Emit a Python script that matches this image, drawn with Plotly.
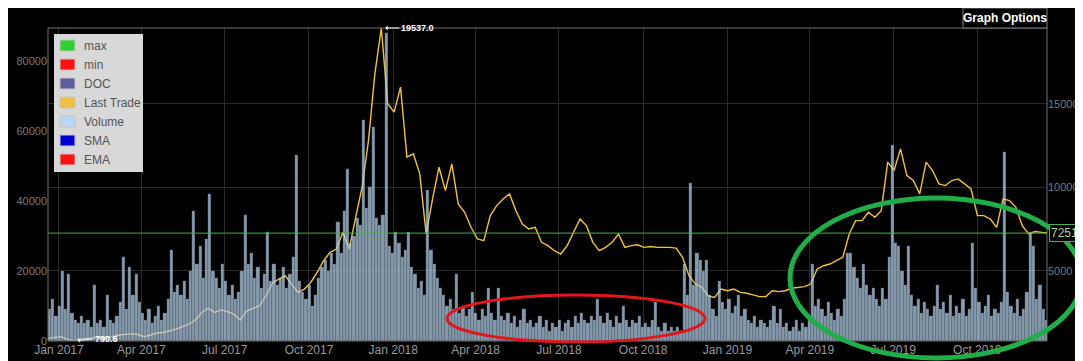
import pandas as pd
import plotly.graph_objects as go

# ---------------- data ----------------
price_dates = pd.date_range('2016-12-20', periods=157, freq='7D')
last_trade = [
    950, 980, 1050, 900, 790.6, 900, 950, 980, 1000, 1030,
    1050, 1150, 1200, 1220, 1180, 1050, 1150, 1270, 1300, 1400,
    1500, 1650, 1800, 2050, 2500, 2750, 2500, 2650, 2550, 2400,
    2050, 2600, 2750, 2900, 3500, 4250, 4500, 4700, 4200, 3700,
    3900, 4300, 4900, 5600, 6100, 6300, 7300, 6300, 8200, 10000,
    12800, 16800, 19537.0, 15000, 14500, 16000, 11800, 12000, 10800, 7200,
    9300, 11200, 9800, 11400, 9000, 8500, 7600, 6900, 6800, 8300,
    8900, 9300, 9600, 8600, 7800, 7500, 7600, 6700, 6500, 6200,
    6000, 6500, 7300, 8100, 7700, 6700, 6200, 6400, 6700, 7200,
    6400, 6500, 6550, 6400, 6450, 6400, 6400, 6400, 6350, 5800,
    4700, 4200, 4000, 3500, 3400, 3900, 3800, 3900, 3700, 3650,
    3550, 3450, 3450, 3800, 3750, 3800, 3950, 4000, 4050, 4200,
    5100, 5300, 5400, 5600, 5800, 7200, 8000, 8000, 8500, 8200,
    8600, 11500, 11000, 12300, 10700, 10400, 9600, 11500, 11000, 10200,
    10100, 10400, 10500, 10200, 9900, 8300, 8300, 8100, 7600, 9300,
    9200, 8800, 7700, 7200, 7350, 7300, 7251.8,
]

volume_dates = pd.date_range('2016-12-21 18:00', periods=312, freq='84h')
volume_k = [
    9, 12, 7, 10, 20, 9, 19, 8, 6, 5,
    7, 5, 6, 4, 16, 5, 6, 4, 13, 6,
    5, 7, 11, 24, 9, 21, 13, 19, 11, 8,
    6, 9, 5, 7, 10, 6, 8, 12, 26, 14,
    16, 13, 17, 12, 20, 37, 22, 27, 18, 29,
    42, 20, 18, 15, 22, 17, 13, 16, 12, 14,
    20, 36, 22, 25, 18, 21, 15, 19, 31, 17,
    22, 16, 18, 21, 15, 19, 24, 53, 17, 14,
    12, 16, 10, 13, 18, 21, 23, 20, 25, 22,
    34, 25, 37, 49, 28, 30, 35, 33, 63, 38,
    44, 61, 35, 33, 36, 88, 27, 25, 31, 28,
    24, 26, 31, 21, 19, 15, 17, 13, 43, 26,
    22, 18, 15, 13, 10, 12, 9, 19, 8, 10,
    7, 9, 14, 8, 6, 9, 7, 15, 8, 6,
    15, 7, 6, 8, 5, 7, 4, 6, 9, 5,
    6, 4, 5, 7, 4, 6, 3, 5, 4, 6,
    3, 5, 6, 4, 7, 5, 8, 6, 5, 7,
    6, 12, 7, 5, 8, 6, 4, 7, 5, 10,
    6, 4, 6, 5, 7, 4, 5, 4, 6, 11,
    4, 3, 5, 3, 4, 3, 4, 3, 22, 13,
    45, 16, 25, 23, 20, 23, 13, 9, 7, 17,
    11, 9, 12, 8, 10, 13, 7, 9, 6, 5,
    7, 4, 6, 5, 4, 6, 10, 5, 9, 4,
    5, 3, 4, 6, 3, 5, 4, 6, 22, 10,
    12, 9, 7, 11, 8, 6, 9, 7, 12, 25,
    25, 21, 18, 15, 22, 16, 13, 15, 12, 10,
    15, 12, 24, 56, 28, 27, 20, 16, 27, 13,
    10, 12, 8, 11, 9, 7, 10, 16, 9, 11,
    8, 13, 7, 10, 8, 12, 7, 9, 28, 15,
    11, 8, 10, 13, 7, 9, 8, 11, 54, 14,
    10, 8, 12, 7, 9, 14, 31, 27, 12, 16,
    9, 6,
]
volume = [v * 1000 for v in volume_k]

x_range = ['2016-12-20', '2019-12-16']
price_ticks = [5000, 10000, 15000]
volume_ticks = [0, 20000, 40000, 60000, 80000]

legend_names = ['max', 'min', 'DOC', 'Last Trade', 'Volume', 'SMA', 'EMA']
legend_colors = ['#2fd02f', '#ff1010', '#5e5e9e', '#f0c040', '#b8d8f2', '#0000d0', '#ff1010']

# ---------------- geometry (page has an 8px body margin) ----------------
OFF = 8
W, H = 1075, 353
L, R, T, B = 40, 36, 20, 20
PW, PH = W - L - R, H - T - B


def px(x):
    """window pixel x -> paper x"""
    return (x - OFF - L) / PW


def py(y):
    """window pixel y -> paper y"""
    return (H - B - (y - OFF)) / PH


price_min = min(last_trade)
price_max = max(last_trade)
i_max = last_trade.index(price_max)
i_min = last_trade.index(price_min)
last_val = last_trade[-1]

FONT = 'Liberation Sans, Arial, sans-serif'

fig = go.Figure()
fig.add_trace(go.Scatter(
    x=price_dates, y=last_trade, mode='lines', yaxis='y',
    line=dict(color='#f2c23e', width=1.4), hoverinfo='skip'))
fig.add_trace(go.Bar(
    x=volume_dates, y=volume, yaxis='y2', width=3.5 * 86400000,
    marker=dict(color='rgb(184,212,238)', line=dict(width=0.3, color='rgba(20,30,40,0.4)')),
    opacity=0.72, hoverinfo='skip'))

shapes = [
    # plot frame
    dict(type='rect', xref='paper', yref='paper', x0=0, x1=1, y0=0, y1=1,
         line=dict(color='#6e6e6e', width=1), layer='above'),
    # last trade line
    dict(type='line', xref='paper', yref='y', x0=0, x1=1, y0=last_val, y1=last_val,
         line=dict(color='#4caf50', width=1), layer='above'),
    # graph options box
    dict(type='rect', xref='paper', yref='paper', x0=px(963), x1=1.0, y0=1.0, y1=py(8),
         line=dict(color='#808080', width=1), fillcolor='black', layer='above'),
    # green corner box
    dict(type='rect', xref='paper', yref='paper', x0=px(1080), x1=px(1096), y0=py(25), y1=py(12),
         line=dict(color='#2fbf2f', width=1.5), layer='above'),
    # legend background
    dict(type='rect', xref='paper', yref='paper', x0=px(54), x1=px(143), y0=py(172), y1=py(34),
         line=dict(width=0), fillcolor='#d8d8d8', layer='above'),
    # hand-drawn ellipses
    dict(type='circle', xref='paper', yref='paper', x0=px(447), x1=px(705), y0=py(342), y1=py(295),
         line=dict(color='#e0181c', width=3), layer='above'),
    dict(type='circle', xref='paper', yref='paper', x0=px(790), x1=px(1082), y0=py(358), y1=py(198),
         line=dict(color='#1fae48', width=5), layer='above'),
]

annotations = [
    dict(xref='paper', yref='paper', x=px(1005), y=py(18), text='<b>Graph Options</b>',
         showarrow=False, xanchor='center', yanchor='middle',
         font=dict(color='white', size=12, family=FONT)),
    dict(xref='paper', yref='y', x=1.0, y=last_val, text='7251.8', showarrow=False,
         xanchor='left', xshift=2, font=dict(color='#a9d6a0', size=12, family=FONT),
         bordercolor='#4caf50', borderwidth=1, borderpad=1, bgcolor='black'),
    dict(x=price_dates[i_max], y=price_max, xref='x', yref='y', text='<b>%.1f</b>' % price_max,
         showarrow=True, ax=18, ay=0, xanchor='left', standoff=4,
         arrowhead=1, arrowsize=0.8, arrowwidth=1, arrowcolor='white',
         font=dict(color='white', size=9, family=FONT)),
    dict(x=price_dates[i_min], y=price_min, xref='x', yref='y', text='<b>%.1f</b>' % price_min,
         showarrow=True, ax=19, ay=-2, xanchor='left', standoff=4,
         arrowhead=1, arrowsize=0.8, arrowwidth=1, arrowcolor='white',
         font=dict(color='white', size=9, family=FONT)),
]

for k, (name, col) in enumerate(zip(legend_names, legend_colors)):
    yc = 45.5 + 19 * k
    shapes.append(dict(type='rect', xref='paper', yref='paper',
                       x0=px(60), x1=px(75), y0=py(yc + 5.5), y1=py(yc - 5.5),
                       fillcolor=col, line=dict(color='#c4c4c4', width=1), layer='above'))
    annotations.append(dict(xref='paper', yref='paper', x=px(82), y=py(yc), text=name,
                            showarrow=False, xanchor='left', yanchor='middle',
                            font=dict(color='#555555', size=12, family=FONT)))

fig.update_layout(
    width=W, height=H,
    margin=dict(l=L, r=R, t=T, b=B, autoexpand=False),
    paper_bgcolor='black', plot_bgcolor='black',
    showlegend=False, bargap=0,
    font=dict(family=FONT, color='#888888'),
    xaxis=dict(type='date', range=x_range, tick0='2017-01-01', dtick='M3',
               tickformat='%b %Y', showgrid=True, gridcolor='#2a2a2a', gridwidth=1,
               zeroline=False, showline=False, ticks='', automargin=False,
               tickfont=dict(color='#999999', size=12, family=FONT)),
    yaxis=dict(side='right', range=[price_min, price_max], tickvals=price_ticks,
               tickformat='d', automargin=False,
               showgrid=True, gridcolor='#2a2a2a', zeroline=False, showline=False, ticks='',
               tickfont=dict(color='#7a7a7a', size=11, family=FONT)),
    yaxis2=dict(side='left', overlaying='y', range=[0, 89400], tickvals=volume_ticks,
                tickformat='d', showgrid=False, zeroline=False, showline=False, ticks='',
                automargin=False,
                tickfont=dict(color='#7a7a7a', size=11, family=FONT)),
    shapes=shapes,
    annotations=annotations,
)

fig.write_html('out.html')
